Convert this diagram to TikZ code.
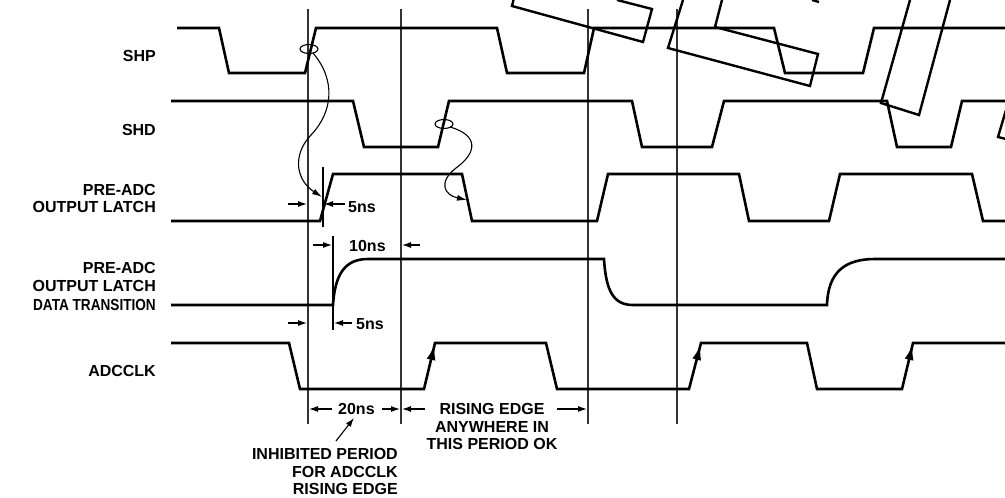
\documentclass[tikz,border=0pt]{standalone}
\usepackage{fontspec}
\setmainfont{Liberation Sans}
\usetikzlibrary{arrows.meta}
\begin{document}
\begin{tikzpicture}[x=1pt,y=-1pt,
  sig/.style={line width=2.6pt},
  guide/.style={line width=1.1pt, draw=black!80},
  dim/.style={line width=1.1pt, -{Latex[length=9pt,width=6pt]}},
  thin/.style={line width=1.1pt},
  lbl/.style={font=\fontsize{16}{19}\selectfont\bfseries, inner sep=0pt, anchor=base east},
  ann/.style={font=\fontsize{16}{19}\selectfont\bfseries, inner sep=0pt, anchor=base west},
  annc/.style={font=\fontsize{16}{19}\selectfont\bfseries, inner sep=0pt, anchor=base},
  glitch/.style={line width=2.4pt}]
\useasboundingbox (0,0) rectangle (1005,498);

% signal labels
\node[lbl] (lshp) at (156,61) {SHP};
\node[lbl] (lshd) at (156,135) {SHD};
\node[lbl] (llat1) at (156,195) {PRE-ADC};
\node[lbl] (llat2) at (156,212) {OUTPUT LATCH};
\node[lbl] (ldat1) at (156,273) {PRE-ADC};
\node[lbl] (ldat2) at (156,291) {OUTPUT LATCH};
\node[lbl] (ldat3) at (156,310) {\scalebox{0.85}[1]{DATA TRANSITION}};
\node[lbl] (ladc) at (156,376) {ADCCLK};

% guide lines
\draw[guide] (308,9) -- (308,424);
\draw[guide] (401,9) -- (401,424);
\draw[guide] (588,9) -- (588,424);
\draw[guide] (677,9) -- (677,424);
\draw[thin] (323,167) -- (323,227);
\draw[thin] (333,236) -- (333,330);

% waveforms
\draw[sig] (177,28) -- (219,28) -- (229,73) -- (305,73) -- (316,28) -- (497,28) -- (507,73) -- (584,73) -- (594,28) -- (774,28) -- (785,73) -- (863,73) -- (874,28) -- (1005,28);
\draw[sig] (171,101) -- (353,101) -- (364,147) -- (438,147) -- (449,101) -- (632,101) -- (642,147) -- (712,147) -- (724,101) -- (887,101) -- (897,147) -- (951,147) -- (962,101) -- (1005,101);
\draw[sig] (171,221) -- (320,221) -- (333,174) -- (462,174) -- (472,221) -- (597,221) -- (608,174) -- (739,174) -- (749,221) -- (829,221) -- (840,174) -- (972,174) -- (983,221) -- (1005,221);
\draw[sig] (171,305) -- (333,305) .. controls (335,274) and (345,259) .. (368,259) -- (604,259) .. controls (606,292) and (614,305) .. (633,305) -- (827,305) .. controls (828,272) and (845,259) .. (875,259) -- (1005,259);
\draw[sig] (171,343) -- (289,343) -- (300,389) -- (424,389) -- (435,343) -- (546,343) -- (557,389) -- (689,389) -- (701,343) -- (807,343) -- (817,389) -- (902,389) -- (913,343) -- (1005,343);
% rising-edge arrowheads on ADCCLK
\draw[line width=1pt, -{Latex[length=14pt,width=9pt]}] (426,381) -- (434.3,346);
\draw[line width=1pt, -{Latex[length=14pt,width=9pt]}] (691,381) -- (700.3,346);
\draw[line width=1pt, -{Latex[length=14pt,width=9pt]}] (904,381) -- (912.3,346);

% causal squiggles
\draw[thin] (309,49) ellipse [x radius=9, y radius=4.5];
\draw[thin, -{Latex[length=10pt,width=6pt]}] (313,53) .. controls (336,80) and (333,112) .. (311,135) .. controls (292,155) and (296,180) .. (322,197);
\draw[thin] (444,124) ellipse [x radius=9, y radius=4.5];
\draw[thin, -{Latex[length=10pt,width=6pt]}] (450,127) .. controls (478,135) and (478,152) .. (456,168) .. controls (438,182) and (444,195) .. (467,200);

% dimension arrows
\draw[dim] (288,204) -- (307,204);
\draw[dim] (345,204) -- (324,204);
\node[ann] (t5a) at (348,212) {5ns};
\draw[dim] (313,245) -- (332,245);
\draw[dim] (420,245) -- (402,245);
\node[ann] (t10) at (349,251) {10ns};
\draw[dim] (288,323) -- (307,323);
\draw[dim] (352,323) -- (334,323);
\node[ann] (t5b) at (356,329) {5ns};
\draw[dim] (332,409) -- (309,409);
\draw[dim] (382,409) -- (400,409);
\node[ann] (t20) at (338,414) {20ns};
\draw[dim] (425,409) -- (402,409);
\draw[dim] (557,409) -- (587,409);
\node[annc] (r1) at (492,414) {RISING EDGE};
\node[annc] (r2) at (492,432) {ANYWHERE IN};
\node[annc] (r3) at (492,449) {THIS PERIOD OK};

\node[lbl] (i1) at (398,459) {INHIBITED PERIOD};
\node[lbl] (i2) at (398,477) {FOR ADCCLK};
\node[lbl] (i3) at (398,494) {RISING EDGE};
\draw[dim] (336,441) -- (354,418);

% stray rotated outlines
\draw[glitch] (513.5,0) -- (512,6) -- (643,42) -- (652,9) -- (617,0);
\draw[glitch] (683,0) -- (668,48) -- (810,86) -- (818,54) -- (715,27) -- (722,0);
\draw[glitch] (812,0) -- (819,2);
\draw[glitch] (910,0) -- (881,103) -- (919,115) -- (950,0);
\draw[glitch] (1006,110) -- (998,137) -- (1006,139);
\end{tikzpicture}
\end{document}
